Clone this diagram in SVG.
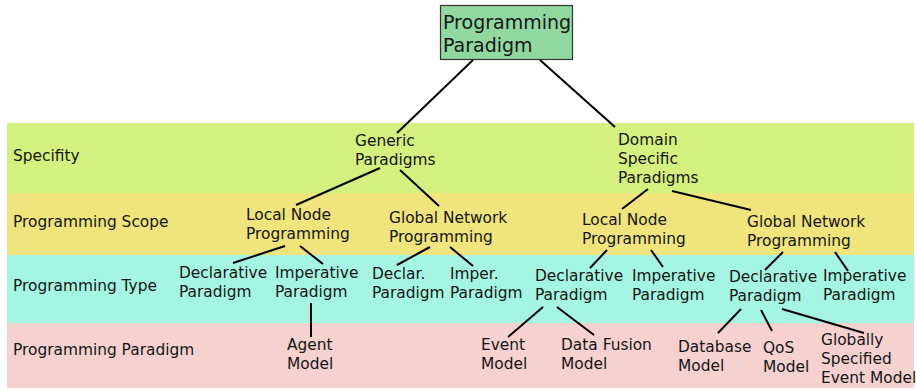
<svg xmlns="http://www.w3.org/2000/svg" width="916" height="389" viewBox="0 0 916 389">
  <style>
    text { font-family: "DejaVu Sans", "Liberation Sans", sans-serif; font-size: 15.4px; fill: #151515; }
    .root text { font-size: 19px; }
    #connectors line { stroke: #000; stroke-width: 2; stroke-linecap: butt; }
  </style>

  <rect width="916" height="389" fill="#ffffff"/>

  <!-- Level bands -->
  <g id="bands">
    <rect x="7" y="123" width="907" height="70" fill="#d4f07e"/>
    <rect x="7" y="193" width="907" height="62" fill="#f0e47c"/>
    <rect x="7" y="255" width="907" height="68" fill="#a4f5e1"/>
    <rect x="7" y="323" width="907" height="65" fill="#f5d2d0"/>
    <text x="13" y="161">Specifity</text>
    <text x="13" y="227">Programming Scope</text>
    <text x="13" y="291">Programming Type</text>
    <text x="13" y="355">Programming Paradigm</text>
  </g>

  <!-- Connectors -->
  <g id="connectors">
    <line x1="473" y1="60" x2="397" y2="133"/>
    <line x1="540" y1="60" x2="615" y2="127"/>
    <line x1="380" y1="168" x2="296" y2="205"/>
    <line x1="400" y1="170" x2="439" y2="206"/>
    <line x1="648" y1="189" x2="622" y2="209"/>
    <line x1="672" y1="191" x2="751" y2="210"/>
    <line x1="285" y1="246" x2="233" y2="263"/>
    <line x1="300" y1="246" x2="323" y2="264"/>
    <line x1="430" y1="247" x2="397" y2="265"/>
    <line x1="450" y1="247" x2="473" y2="266"/>
    <line x1="607" y1="250" x2="590" y2="268"/>
    <line x1="651" y1="250" x2="663" y2="267"/>
    <line x1="783" y1="252" x2="765" y2="270"/>
    <line x1="835" y1="252" x2="848" y2="271"/>
    <line x1="311" y1="303" x2="311" y2="337"/>
    <line x1="543" y1="307" x2="508" y2="337"/>
    <line x1="557" y1="307" x2="594" y2="335"/>
    <line x1="741" y1="309" x2="718" y2="333"/>
    <line x1="761" y1="310" x2="772" y2="331"/>
    <line x1="782" y1="309" x2="864" y2="333"/>
  </g>

  <!-- Root -->
  <g id="root" class="root">
    <rect x="440.5" y="5.5" width="132" height="54" fill="#90d8a0" stroke="#333" stroke-width="1.2"/>
    <text x="443" y="29">Programming</text>
    <text x="443" y="52">Paradigm</text>
  </g>

  <!-- Specifity -->
  <g id="generic">
    <text x="355" y="146">Generic</text>
    <text x="355" y="165">Paradigms</text>
  </g>
  <g id="domain-specific">
    <text x="618" y="145">Domain</text>
    <text x="618" y="164">Specific</text>
    <text x="618" y="183">Paradigms</text>
  </g>

  <!-- Programming scope -->
  <g id="generic-local">
    <text x="246" y="220">Local Node</text>
    <text x="246" y="239">Programming</text>
  </g>
  <g id="generic-global">
    <text x="389" y="223">Global Network</text>
    <text x="389" y="242">Programming</text>
  </g>
  <g id="domain-local">
    <text x="582" y="225">Local Node</text>
    <text x="582" y="244">Programming</text>
  </g>
  <g id="domain-global">
    <text x="747" y="227">Global Network</text>
    <text x="747" y="246">Programming</text>
  </g>

  <!-- Programming type -->
  <g id="gl-declarative">
    <text x="179" y="278">Declarative</text>
    <text x="179" y="297">Paradigm</text>
  </g>
  <g id="gl-imperative">
    <text x="275" y="278">Imperative</text>
    <text x="275" y="297">Paradigm</text>
  </g>
  <g id="gg-declarative">
    <text x="372" y="279">Declar.</text>
    <text x="372" y="298">Paradigm</text>
  </g>
  <g id="gg-imperative">
    <text x="450" y="279">Imper.</text>
    <text x="450" y="298">Paradigm</text>
  </g>
  <g id="dl-declarative">
    <text x="535" y="281">Declarative</text>
    <text x="535" y="300">Paradigm</text>
  </g>
  <g id="dl-imperative">
    <text x="632" y="281">Imperative</text>
    <text x="632" y="300">Paradigm</text>
  </g>
  <g id="dg-declarative">
    <text x="729" y="282">Declarative</text>
    <text x="729" y="301">Paradigm</text>
  </g>
  <g id="dg-imperative">
    <text x="823" y="281">Imperative</text>
    <text x="823" y="300">Paradigm</text>
  </g>

  <!-- Programming paradigm -->
  <g id="agent-model">
    <text x="287" y="350">Agent</text>
    <text x="287" y="369">Model</text>
  </g>
  <g id="event-model">
    <text x="481" y="350">Event</text>
    <text x="481" y="369">Model</text>
  </g>
  <g id="data-fusion-model">
    <text x="561" y="350">Data Fusion</text>
    <text x="561" y="369">Model</text>
  </g>
  <g id="database-model">
    <text x="678" y="352">Database</text>
    <text x="678" y="371">Model</text>
  </g>
  <g id="qos-model">
    <text x="763" y="353">QoS</text>
    <text x="763" y="372">Model</text>
  </g>
  <g id="global-event-model">
    <text x="821" y="345">Globally</text>
    <text x="821" y="364">Specified</text>
    <text x="821" y="383">Event Model</text>
  </g>
</svg>
